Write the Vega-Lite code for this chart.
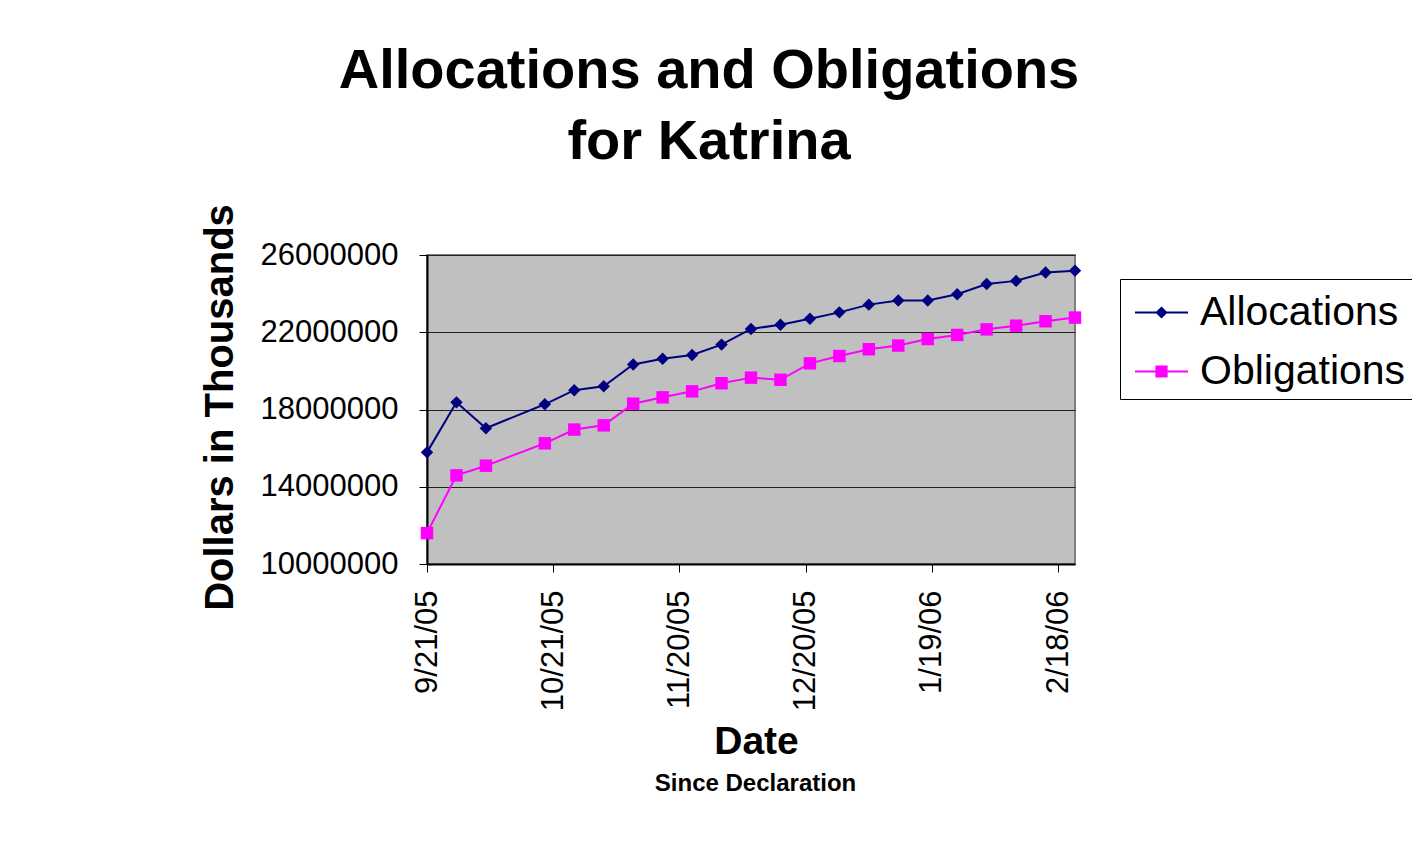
{
  "$schema": "https://vega.github.io/schema/vega-lite/v6.json",
  "autosize": "none",
  "width": 648,
  "height": 309,
  "padding": {"left": 427, "top": 255, "right": 337, "bottom": 279},
  "background": "white",
  "config": {
    "font": "Liberation Sans",
    "view": {"fill": "#C0C0C0", "stroke": "#808080", "strokeWidth": 2}
  },
  "title": {
    "text": ["Allocations and Obligations", "for Katrina"],
    "font": "Liberation Sans",
    "fontSize": 56,
    "fontWeight": "bold",
    "color": "black",
    "lineHeight": 71,
    "anchor": "middle",
    "frame": "group",
    "baseline": "alphabetic",
    "dx": -42,
    "offset": -11
  },
  "data": {
    "values": [
      {"date": "2005-09-21", "series": "Allocations", "value": 15780000},
      {"date": "2005-09-28", "series": "Allocations", "value": 18370000},
      {"date": "2005-10-05", "series": "Allocations", "value": 17030000},
      {"date": "2005-10-19", "series": "Allocations", "value": 18270000},
      {"date": "2005-10-26", "series": "Allocations", "value": 19000000},
      {"date": "2005-11-02", "series": "Allocations", "value": 19200000},
      {"date": "2005-11-09", "series": "Allocations", "value": 20330000},
      {"date": "2005-11-16", "series": "Allocations", "value": 20630000},
      {"date": "2005-11-23", "series": "Allocations", "value": 20820000},
      {"date": "2005-11-30", "series": "Allocations", "value": 21360000},
      {"date": "2005-12-07", "series": "Allocations", "value": 22170000},
      {"date": "2005-12-14", "series": "Allocations", "value": 22390000},
      {"date": "2005-12-21", "series": "Allocations", "value": 22700000},
      {"date": "2005-12-28", "series": "Allocations", "value": 23030000},
      {"date": "2006-01-04", "series": "Allocations", "value": 23430000},
      {"date": "2006-01-11", "series": "Allocations", "value": 23640000},
      {"date": "2006-01-18", "series": "Allocations", "value": 23640000},
      {"date": "2006-01-25", "series": "Allocations", "value": 23970000},
      {"date": "2006-02-01", "series": "Allocations", "value": 24500000},
      {"date": "2006-02-08", "series": "Allocations", "value": 24660000},
      {"date": "2006-02-15", "series": "Allocations", "value": 25090000},
      {"date": "2006-02-22", "series": "Allocations", "value": 25190000},
      {"date": "2005-09-21", "series": "Obligations", "value": 11600000},
      {"date": "2005-09-28", "series": "Obligations", "value": 14590000},
      {"date": "2005-10-05", "series": "Obligations", "value": 15090000},
      {"date": "2005-10-19", "series": "Obligations", "value": 16250000},
      {"date": "2005-10-26", "series": "Obligations", "value": 16960000},
      {"date": "2005-11-02", "series": "Obligations", "value": 17180000},
      {"date": "2005-11-09", "series": "Obligations", "value": 18300000},
      {"date": "2005-11-16", "series": "Obligations", "value": 18630000},
      {"date": "2005-11-23", "series": "Obligations", "value": 18940000},
      {"date": "2005-11-30", "series": "Obligations", "value": 19360000},
      {"date": "2005-12-07", "series": "Obligations", "value": 19650000},
      {"date": "2005-12-14", "series": "Obligations", "value": 19540000},
      {"date": "2005-12-21", "series": "Obligations", "value": 20390000},
      {"date": "2005-12-28", "series": "Obligations", "value": 20770000},
      {"date": "2006-01-04", "series": "Obligations", "value": 21120000},
      {"date": "2006-01-11", "series": "Obligations", "value": 21310000},
      {"date": "2006-01-18", "series": "Obligations", "value": 21650000},
      {"date": "2006-01-25", "series": "Obligations", "value": 21860000},
      {"date": "2006-02-01", "series": "Obligations", "value": 22150000},
      {"date": "2006-02-08", "series": "Obligations", "value": 22340000},
      {"date": "2006-02-15", "series": "Obligations", "value": 22570000},
      {"date": "2006-02-22", "series": "Obligations", "value": 22760000}
    ]
  },
  "encoding": {
    "y": {
      "field": "value",
      "type": "quantitative",
      "scale": {"domain": [10000000, 26000000], "nice": false, "zero": false},
      "axis": {
        "values": [10000000, 14000000, 18000000, 22000000, 26000000],
        "format": "d",
        "labelFont": "Liberation Sans",
        "labelFontSize": 31,
        "labelColor": "black",
        "labelPadding": 21,
        "tickSize": 8,
        "tickColor": "black",
        "domainColor": "black",
        "domainWidth": 2,
        "grid": true,
        "gridColor": "#222222",
        "gridWidth": 1,
        "title": "Dollars in Thousands",
        "titleFont": "Liberation Sans",
        "titleFontSize": 40,
        "titleFontWeight": "bold",
        "titleColor": "black",
        "titleAngle": -90,
        "titleAlign": "center",
        "titleBaseline": "alphabetic",
        "titleX": -195,
        "titleY": 152
      }
    },
    "color": {
      "field": "series",
      "type": "nominal",
      "scale": {"domain": ["Allocations", "Obligations"], "range": ["#000080", "#FF00FF"]},
      "legend": {
        "orient": "none",
        "legendX": 693,
        "legendY": 24,
        "title": null,
        "fillColor": "white",
        "strokeColor": "black",
        "padding": 7,
        "symbolOffset": 8,
        "symbolSize": 2809,
        "symbolStrokeWidth": 0,
        "symbolOpacity": 1,
        "symbolType": {"expr": "datum.value === 'Allocations' ? 'M-1,-0.04L1,-0.04L1,0.04L-1,0.04ZM0,-0.23L0.23,0L0,0.23L-0.23,0Z' : 'M-1,-0.04L1,-0.04L1,0.04L-1,0.04ZM-0.23,-0.23L0.23,-0.23L0.23,0.23L-0.23,0.23Z'"},
        "symbolFillColor": {"expr": "datum.value === 'Allocations' ? '#000080' : '#FF00FF'"},
        "symbolStrokeColor": {"expr": "datum.value === 'Allocations' ? '#000080' : '#FF00FF'"},
        "labelFont": "Liberation Sans",
        "labelFontSize": 41,
        "labelColor": "black",
        "labelOffset": 12,
        "rowPadding": 12,
        "labelLimit": 400
      }
    }
  },
  "layer": [
    {
      "mark": {"type": "line", "strokeWidth": 2},
      "encoding": {
        "x": {
          "field": "date",
          "type": "temporal",
          "scale": {
            "type": "utc",
            "domain": [
              {"year": 2005, "month": 9, "date": 21, "utc": true},
              {"year": 2006, "month": 2, "date": 22, "utc": true}
            ],
            "nice": false
          },
          "axis": {
            "orient": "bottom",
            "values": [
              {"year": 2005, "month": 9, "date": 21, "utc": true},
              {"year": 2005, "month": 10, "date": 21, "utc": true},
              {"year": 2005, "month": 11, "date": 20, "utc": true},
              {"year": 2005, "month": 12, "date": 20, "utc": true},
              {"year": 2006, "month": 1, "date": 19, "utc": true},
              {"year": 2006, "month": 2, "date": 18, "utc": true}
            ],
            "format": "%-m/%-d/%y",
            "labelAngle": 270,
            "labelFont": "Liberation Sans",
            "labelFontSize": 31,
            "labelColor": "black",
            "labelPadding": 18,
            "labelFlush": false,
            "labelOverlap": false,
            "tickSize": 8,
            "tickColor": "black",
            "domainColor": "black",
            "domainWidth": 2,
            "grid": false,
            "title": "Date",
            "titleFont": "Liberation Sans",
            "titleFontSize": 39,
            "titleFontWeight": "bold",
            "titleColor": "black",
            "titleAlign": "center",
            "titleBaseline": "alphabetic",
            "titleX": 329,
            "titleY": 189
          }
        }
      }
    },
    {
      "mark": {"type": "point", "filled": true, "opacity": 1, "size": 155},
      "encoding": {
        "x": {
          "field": "date",
          "type": "temporal",
          "scale": {
            "type": "utc",
            "domain": [
              {"year": 2005, "month": 9, "date": 21, "utc": true},
              {"year": 2006, "month": 2, "date": 22, "utc": true}
            ],
            "nice": false
          },
          "axis": {
            "orient": "bottom",
            "labels": false,
            "ticks": false,
            "domain": false,
            "grid": false,
            "title": "Since Declaration",
            "titleFont": "Liberation Sans",
            "titleFontSize": 24,
            "titleFontWeight": "bold",
            "titleColor": "black",
            "titleAlign": "center",
            "titleBaseline": "alphabetic",
            "titleX": 328,
            "titleY": 226
          }
        },
        "shape": {
          "condition": {"test": "datum.series === 'Allocations'", "value": "diamond"},
          "value": "square"
        }
      }
    }
  ],
  "resolve": {"axis": {"x": "independent"}}
}
